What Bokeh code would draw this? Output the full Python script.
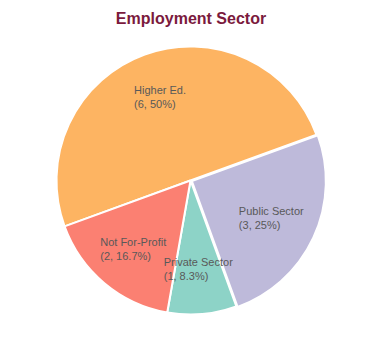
import numpy as np
from bokeh.plotting import figure
from bokeh.models import Range1d, ColumnDataSource
from bokeh.core.properties import value
from bokeh.embed import file_html
from bokeh.resources import INLINE

# ---- data ----
categories = ["Higher Ed.", "Public Sector", "Private Sector", "Not For-Profit"]
counts = [6, 3, 1, 2]
colors = ["#FDB462", "#BEBADA", "#8DD3C7", "#FB8072"]
title_text = "Employment Sector"

# ---- geometry (page pixel units; y measured upward) ----
W, H = 364, 344
cx, cy, R = 190.0, 180.0, 134.0
start_deg = 200.0
explode = [0.0, 1.5, 0.0, 0.0]

vals = np.array(counts, dtype=float)
total = vals.sum()
span = vals / total * 2 * np.pi
starts = np.deg2rad(start_deg) - np.concatenate([[0], np.cumsum(span)[:-1]])
ends = starts - span
mids = (starts + ends) / 2
xs = cx + np.array(explode) * np.cos(mids)
ys = cy + np.array(explode) * np.sin(mids)

pct = vals / total * 100
labels = [f"{c}\n({int(v)}, {p:.1f}%)".replace(".0%", "%") for c, v, p in zip(categories, vals, pct)]

# approximate Arial widths (per 1000 em) to left-align label blocks around their anchor
AW = {"H": 722, "i": 222, "g": 556, "h": 556, "e": 556, "r": 333, " ": 278, "E": 667,
      "d": 556, ".": 278, "(": 333, ")": 333, ",": 278, "%": 889, "P": 667, "u": 556,
      "b": 556, "l": 222, "c": 500, "S": 667, "t": 278, "o": 556, "N": 722, "F": 611,
      "-": 333, "f": 278, "v": 500, "a": 556}
fs = 11

def block_w(s):
    return max(sum(AW.get(ch, 556) for ch in line) for line in s.split("\n")) * fs / 1000.0

r_lab = 0.665 * R
lx = [cx + r_lab * np.cos(m) - block_w(s) / 2 for m, s in zip(mids, labels)]
ly = [cy + r_lab * np.sin(m) for m in mids]

src = ColumnDataSource(dict(x=xs, y=ys, start=starts, end=ends, color=colors))
lsrc = ColumnDataSource(dict(x=lx, y=ly, text=labels))

p = figure(width=W, height=H, output_backend="svg", toolbar_location=None,
           x_range=Range1d(0, W), y_range=Range1d(360 - H, 360),
           min_border=0, outline_line_color=None)
p.axis.visible = False
p.grid.visible = False
p.background_fill_color = "white"
p.border_fill_color = "white"

p.wedge(x="x", y="y", radius=R, start_angle="start", end_angle="end", direction="clock",
        fill_color="color", line_color="white", line_width=2, source=src)

p.text(x="x", y="y", text="text", source=lsrc, text_align="left", text_baseline="middle",
       text_font=value("Liberation Sans"), text_font_size=f"{fs}px", text_color="#595959",
       text_line_height=1.15)

p.text(x=[190.5], y=[360 - 17.5], text=[title_text], text_align="center",
       text_baseline="alphabetic", text_font=value("Liberation Sans"), text_font_size="16px",
       text_font_style="bold", text_color="#7B1A3D")

open("out.html", "w").write(file_html(p, INLINE))
